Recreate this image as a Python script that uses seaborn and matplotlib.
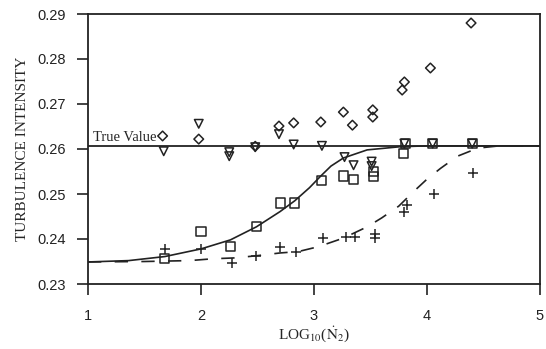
import matplotlib
matplotlib.use("Agg")
import matplotlib.pyplot as plt
import seaborn as sns

# data
true_value = 0.2607

diam_x = [1.66, 1.98, 2.48, 2.69, 2.82, 3.06, 3.26, 3.34, 3.52, 3.52, 3.78, 3.80, 4.03, 4.39]
diam_y = [0.2629, 0.2622, 0.2606, 0.2651, 0.2658, 0.2660, 0.2682, 0.2653, 0.2687, 0.2671, 0.2731, 0.2749, 0.2780, 0.2880]

tri_x = [1.67, 1.98, 2.25, 2.25, 2.48, 2.69, 2.82, 3.07, 3.27, 3.35, 3.51, 3.51, 3.80, 4.05, 4.40]
tri_y = [0.2595, 0.2656, 0.2593, 0.2584, 0.2604, 0.2633, 0.2610, 0.2607, 0.2582, 0.2564, 0.2572, 0.2562, 0.2612, 0.2612, 0.2612]

sq_x = [1.68, 2.00, 2.26, 2.49, 2.70, 2.83, 3.07, 3.26, 3.35, 3.53, 3.53, 3.79, 3.81, 4.05, 4.40]
sq_y = [0.2356, 0.2416, 0.2383, 0.2427, 0.2480, 0.2480, 0.2529, 0.2540, 0.2533, 0.2538, 0.2551, 0.2591, 0.2612, 0.2612, 0.2612]

pl_x = [1.68, 2.00, 2.27, 2.49, 2.70, 2.84, 3.08, 3.28, 3.36, 3.54, 3.54, 3.80, 3.82, 4.06, 4.41]
pl_y = [0.2378, 0.2378, 0.2347, 0.2362, 0.2382, 0.2371, 0.2402, 0.2404, 0.2404, 0.2411, 0.2402, 0.2460, 0.2476, 0.2500, 0.2547]

sol_x = [1.0, 1.36, 1.68, 2.0, 2.26, 2.49, 2.70, 2.83, 2.96, 3.06, 3.15, 3.26, 3.47, 3.76, 4.0, 5.0]
sol_y = [0.2349, 0.2352, 0.2361, 0.2378, 0.2398, 0.2427, 0.2461, 0.2485, 0.2514, 0.2540, 0.2562, 0.2580, 0.2598, 0.2605, 0.2607, 0.2607]

dash_x = [1.0, 1.5, 1.9, 2.1, 2.3, 2.5, 2.7, 2.86, 3.04, 3.26, 3.47, 3.6, 3.75, 3.88, 4.0, 4.12, 4.27, 4.45, 4.64, 5.0]
dash_y = [0.2349, 0.2350, 0.2352, 0.2356, 0.2358, 0.2363, 0.2369, 0.2372, 0.2383, 0.2402, 0.2427, 0.2447, 0.2473, 0.2505,
          0.2533, 0.2557, 0.2584, 0.2602, 0.2607, 0.2607]

xticks = [1, 2, 3, 4, 5]
yticks = [0.23, 0.24, 0.25, 0.26, 0.27, 0.28, 0.29]

sns.set_style("ticks")
plt.rcParams["font.family"] = ["Liberation Sans", "DejaVu Sans"]
plt.rcParams["mathtext.fontset"] = "stix"

fig = plt.figure(figsize=(5.46, 3.49), dpi=100)
ax = fig.add_axes([88/546, 65/349, 452/546, 270/349])

ax.axhline(true_value, color="#222222", lw=1.3)
sns.lineplot(x=sol_x, y=sol_y, ax=ax, color="#222222", lw=1.2, sort=False)
sns.lineplot(x=dash_x, y=dash_y, ax=ax, color="#222222", lw=1.2, sort=False, linestyle=(0, (8, 8)))

sns.scatterplot(x=diam_x, y=diam_y, ax=ax, marker="D", s=24, facecolors="none", edgecolor="#222222", linewidth=1.1)
sns.scatterplot(x=tri_x, y=tri_y, ax=ax, marker="v", s=38, facecolors="none", edgecolor="#222222", linewidth=1.1)
sns.scatterplot(x=sq_x, y=sq_y, ax=ax, marker="s", s=42, facecolors="none", edgecolor="#222222", linewidth=1.1)
sns.scatterplot(x=pl_x, y=pl_y, ax=ax, marker="+", s=55, color="#222222", linewidth=1.1)

ax.text(1.04, true_value + 0.0005, "True Value", family="Liberation Serif", fontsize=10.5, va="bottom", ha="left")

ax.set_xlim(1, 5)
ax.set_ylim(0.23, 0.29)
ax.set_xticks(xticks)
ax.set_yticks(yticks)
ax.set_xticklabels([str(t) for t in xticks])
ax.set_yticklabels([f"{t:.2f}" for t in yticks])
ax.tick_params(axis="both", direction="out", length=8, width=1.2, color="#222222", labelsize=10.5, labelcolor="#222222")
ax.tick_params(axis="x", pad=10)
ax.tick_params(axis="y", pad=8)
for s in ax.spines.values():
    s.set_linewidth(1.3)
    s.set_color("#222222")

ax.set_xlabel(r"LOG$_{10}$($\dot{\mathrm{N}}_2$)", family="Liberation Serif", fontsize=11, labelpad=1)
ax.set_ylabel("TURBULENCE INTENSITY", family="Liberation Serif", fontsize=11, labelpad=6)

fig.savefig("out.png", dpi=100)
